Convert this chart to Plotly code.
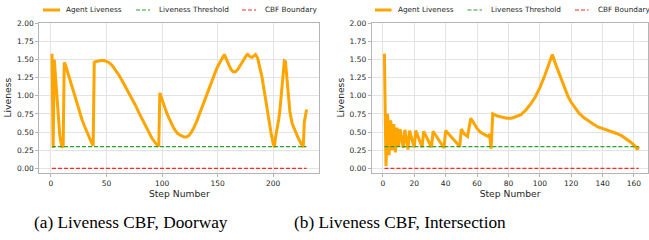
import plotly.graph_objects as go

# ---------------- data: (a) Doorway ----------------
steps_a = [1, 2, 3, 4, 5, 6, 7, 8, 9, 10, 11, 12, 13, 14, 16, 18, 20, 22, 24, 26, 28, 30,
           32, 34, 36, 38, 39, 40, 43, 46, 49, 52, 55, 58, 61, 64, 67, 70, 73, 76, 79, 82,
           85, 88, 91, 94, 97, 98, 100, 102, 104, 106, 108, 110, 112, 114, 116, 118, 120,
           122, 124, 126, 128, 131, 134, 137, 140, 143, 146, 149, 152, 154, 156, 158, 160,
           162, 164, 166, 168, 170, 172, 174, 176, 177, 179, 181, 183, 184, 186, 188, 190,
           192, 194, 196, 198, 200, 201, 202, 203, 204, 205, 206, 207, 208, 209, 210, 211,
           212, 213, 214, 215, 217, 219, 221, 223, 225, 227, 228, 230]
liveness_a = [1.58, 0.28, 1.50, 1.30, 1.06, 0.80, 0.60, 0.45, 0.36, 0.30, 0.29, 1.46, 1.43,
              1.38, 1.27, 1.16, 1.05, 0.95, 0.85, 0.76, 0.67, 0.59, 0.51, 0.44, 0.37, 0.31,
              1.46, 1.47, 1.48, 1.49, 1.48, 1.46, 1.42, 1.36, 1.29, 1.21, 1.13, 1.04, 0.96,
              0.87, 0.77, 0.68, 0.58, 0.49, 0.41, 0.35, 0.30, 1.04, 0.94, 0.85, 0.77, 0.70,
              0.63, 0.57, 0.52, 0.48, 0.46, 0.44, 0.43, 0.43, 0.45, 0.49, 0.54, 0.64, 0.76,
              0.89, 1.02, 1.14, 1.26, 1.37, 1.46, 1.52, 1.57, 1.50, 1.42, 1.36, 1.33, 1.33,
              1.36, 1.41, 1.47, 1.52, 1.56, 1.57, 1.54, 1.53, 1.56, 1.57, 1.52, 1.40, 1.25,
              1.06, 0.85, 0.65, 0.49, 0.34, 0.29, 0.42, 0.50, 0.58, 0.68, 0.80, 0.95, 1.12,
              1.32, 1.48, 1.47, 1.30, 1.10, 0.93, 0.78, 0.62, 0.53, 0.47, 0.40, 0.34, 0.29,
              0.64, 0.81]

# ---------------- data: (b) Intersection ----------------
steps_b = [1, 2, 3, 4, 5, 6, 7, 8, 9, 10, 11, 13, 14, 16, 17, 20, 21, 25, 26, 31, 32, 39,
           40, 49, 50, 52, 54, 56, 58, 60, 62, 64, 66, 67, 68, 69, 70, 73, 76, 79, 82, 85,
           88, 91, 94, 97, 100, 103, 106, 108, 110, 112, 114, 116, 118, 120, 122, 125, 128,
           131, 134, 137, 140, 143, 146, 149, 152, 155, 158, 161, 162, 163]
liveness_b = [1.58, 0.03, 0.75, 0.18, 0.66, 0.25, 0.61, 0.22, 0.56, 0.30, 0.54, 0.28, 0.53,
              0.26, 0.52, 0.29, 0.52, 0.29, 0.51, 0.29, 0.51, 0.28, 0.52, 0.30, 0.54, 0.47,
              0.44, 0.69, 0.62, 0.55, 0.50, 0.47, 0.45, 0.44, 0.47, 0.27, 0.75, 0.72, 0.70,
              0.69, 0.69, 0.71, 0.74, 0.80, 0.88, 0.98, 1.11, 1.27, 1.44, 1.57, 1.44, 1.33,
              1.20, 1.09, 0.99, 0.91, 0.85, 0.76, 0.70, 0.65, 0.61, 0.57, 0.55, 0.52, 0.50,
              0.48, 0.45, 0.41, 0.36, 0.30, 0.26, 0.30]

LIVENESS_THRESHOLD = 0.3
CBF_BOUNDARY = 0.0

series_names = ["Agent Liveness", "Liveness Threshold", "CBF Boundary"]
y_ticks = [0.0, 0.25, 0.5, 0.75, 1.0, 1.25, 1.5, 1.75, 2.0]
x_ticks_a = [0, 50, 100, 150, 200]
x_ticks_b = [0, 20, 40, 60, 80, 100, 120, 140, 160]
captions = ["(a) Liveness CBF, Doorway", "(b) Liveness CBF, Intersection"]

# ---------------- styling ----------------
W, H = 649, 240
ORANGE = "#FFA500"
GREEN = "#2ca02c"
RED = "#ff2a2a"
GRID = "#e3e3e3"
SPINE = "#b5b5b5"
TXT = "#262626"
colors = [ORANGE, GREEN, RED]
TICK_FONT = dict(family="DejaVu Sans", size=7.5, color=TXT)
TITLE_FONT = dict(family="DejaVu Sans", size=9.2, color=TXT)
LEG_FONT = dict(family="DejaVu Sans", size=7.3, color=TXT)
DASH = "4px,2px"

fig = go.Figure()

panels = [
    (steps_a, liveness_a, "x", "y"),
    (steps_b, liveness_b, "x2", "y2"),
]
for steps, vals, xa, ya in panels:
    fig.add_trace(go.Scatter(x=steps, y=vals, mode="lines", name=series_names[0],
                             line=dict(color=ORANGE, width=3), xaxis=xa, yaxis=ya,
                             showlegend=False))
    fig.add_trace(go.Scatter(x=[steps[0], steps[-1]],
                             y=[LIVENESS_THRESHOLD, LIVENESS_THRESHOLD],
                             mode="lines", name=series_names[1],
                             line=dict(color=GREEN, width=1.2, dash=DASH),
                             xaxis=xa, yaxis=ya, showlegend=False))
    fig.add_trace(go.Scatter(x=[steps[0], steps[-1]], y=[CBF_BOUNDARY, CBF_BOUNDARY],
                             mode="lines", name=series_names[2],
                             line=dict(color=RED, width=1.2, dash=DASH),
                             xaxis=xa, yaxis=ya, showlegend=False))

ydom = [(H - 172.7) / H, (H - 22.7) / H]

def xaxis_style(domain, rng, ticks, anchor):
    return dict(domain=domain, range=rng, anchor=anchor, tickvals=ticks,
                ticktext=[str(t) for t in ticks],
                showgrid=True, gridcolor=GRID, gridwidth=0.8, zeroline=False,
                showline=True, mirror=True, linecolor=SPINE, linewidth=1,
                ticks="outside", ticklen=3, tickwidth=0.8, tickcolor=SPINE,
                tickfont=TICK_FONT, automargin=False,
                title=dict(text="Step Number", font=TITLE_FONT, standoff=0))

def yaxis_style(anchor):
    return dict(domain=ydom, range=[-0.061, 2.008], anchor=anchor, tickvals=y_ticks,
                tickformat=".2f", showgrid=True, gridcolor=GRID, gridwidth=0.8,
                zeroline=False, showline=True, mirror=True, linecolor=SPINE, linewidth=1,
                ticks="outside", ticklen=3, tickwidth=0.8, tickcolor=SPINE,
                tickfont=TICK_FONT, automargin=False,
                title=dict(text="Liveness", font=TITLE_FONT, standoff=3))

# manual legends (one per panel), drawn in pixel positions converted to paper coords
LEG_Y = 1 - 10 / H
legend_layout = [
    # (sample x0, sample x1, text x) for each series, per panel
    [(43, 60, 64), (136, 150, 157), (242, 256, 263)],
    [(375, 391.5, 396.5), (467.5, 482, 489), (575, 588.5, 595.5)],
]
shapes = []
annotations = []
for panel in legend_layout:
    for i, (x0, x1, tx) in enumerate(panel):
        shapes.append(dict(type="line", xref="paper", yref="paper",
                           x0=x0 / W, x1=x1 / W, y0=LEG_Y, y1=LEG_Y,
                           line=dict(color=colors[i], width=3 if i == 0 else 1.2,
                                     dash="solid" if i == 0 else DASH)))
        annotations.append(dict(text=series_names[i], x=tx / W, y=LEG_Y, xref="paper",
                                yref="paper", xanchor="left", yanchor="middle",
                                showarrow=False, font=LEG_FONT))

for cap, cx in zip(captions, [130.5, 399.5]):
    annotations.append(dict(text=cap, x=cx / W, y=1 - 222 / H, xref="paper", yref="paper",
                            xanchor="center", yanchor="middle", showarrow=False,
                            font=dict(family="Liberation Serif", size=17.3, color="black")))

fig.update_layout(
    width=W, height=H, margin=dict(l=0, r=0, t=0, b=0, pad=0, autoexpand=False),
    paper_bgcolor="white", plot_bgcolor="white", showlegend=False,
    xaxis=xaxis_style([39.3 / W, 319.3 / W], [-10.45, 241.45], x_ticks_a, "y"),
    xaxis2=xaxis_style([371.7 / W, 648.4 / W], [-7.1, 169.2], x_ticks_b, "y2"),
    yaxis=yaxis_style("x"), yaxis2=yaxis_style("x2"),
    shapes=shapes, annotations=annotations,
)

fig.write_html("out.html",
               config={"displayModeBar": False},
               post_script="document.body.style.margin='0';"
                           "document.body.style.padding='0';"
                           "document.body.style.overflow='hidden';")
